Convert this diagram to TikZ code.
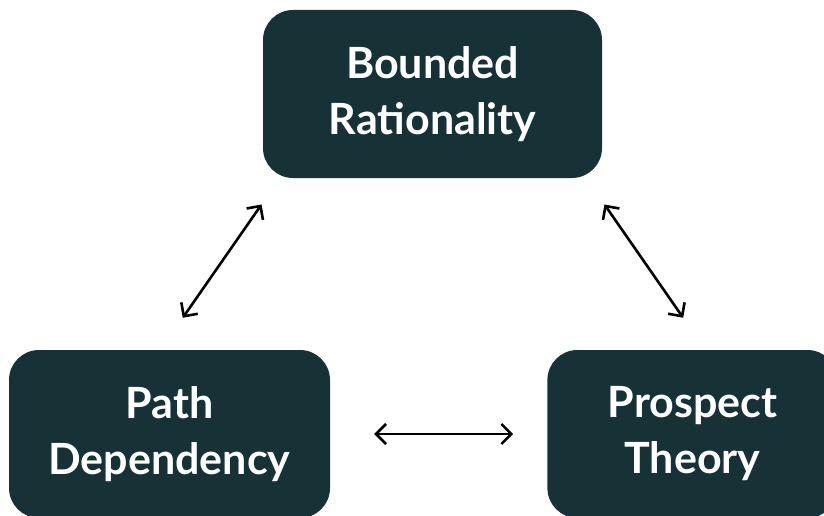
\documentclass[tikz,border=0pt]{standalone}
\usepackage{fontspec}
\setmainfont{Lato}
\usepackage{tikz}
\usetikzlibrary{arrows.meta,positioning}

\definecolor{tealdark}{RGB}{23,50,55}

\begin{document}
\begin{tikzpicture}[
  x=1pt,y=1pt,
  font=\fontsize{43}{56}\selectfont\bfseries,
  concept/.style={fill=tealdark,text=white,rounded corners=30pt,align=center,
                  minimum height=168pt,inner sep=0pt},
  link/.style={{Straight Barb[length=10pt,width=20pt,line width=2.6pt]}-{Straight Barb[length=10pt,width=20pt,line width=2.6pt]},
               line width=2.6pt,black}]
\useasboundingbox (0,0) rectangle (824,-516);
\node[concept,minimum width=339pt] (br) at (432.5,-94) {Bounded\\Rationality};
\node[concept,minimum width=321pt] (pd) at (169.5,-434) {Path\\Dependency};
\node[concept,minimum width=290pt,right=217pt of pd] (pt) {Prospect\\Theory};
% links between the three concepts
\draw[link,shorten <=39pt,shorten >=32pt] ([xshift=-9pt]pd.north) -- ([xshift=17pt]br.south west);
\draw[link,shorten <=32pt,shorten >=39pt] ([xshift=-16pt]br.south east) -- ([xshift=13pt]pt.north);
\draw[link,shorten <=44pt,shorten >=34pt] (pd) -- (pt);
\end{tikzpicture}
\end{document}
